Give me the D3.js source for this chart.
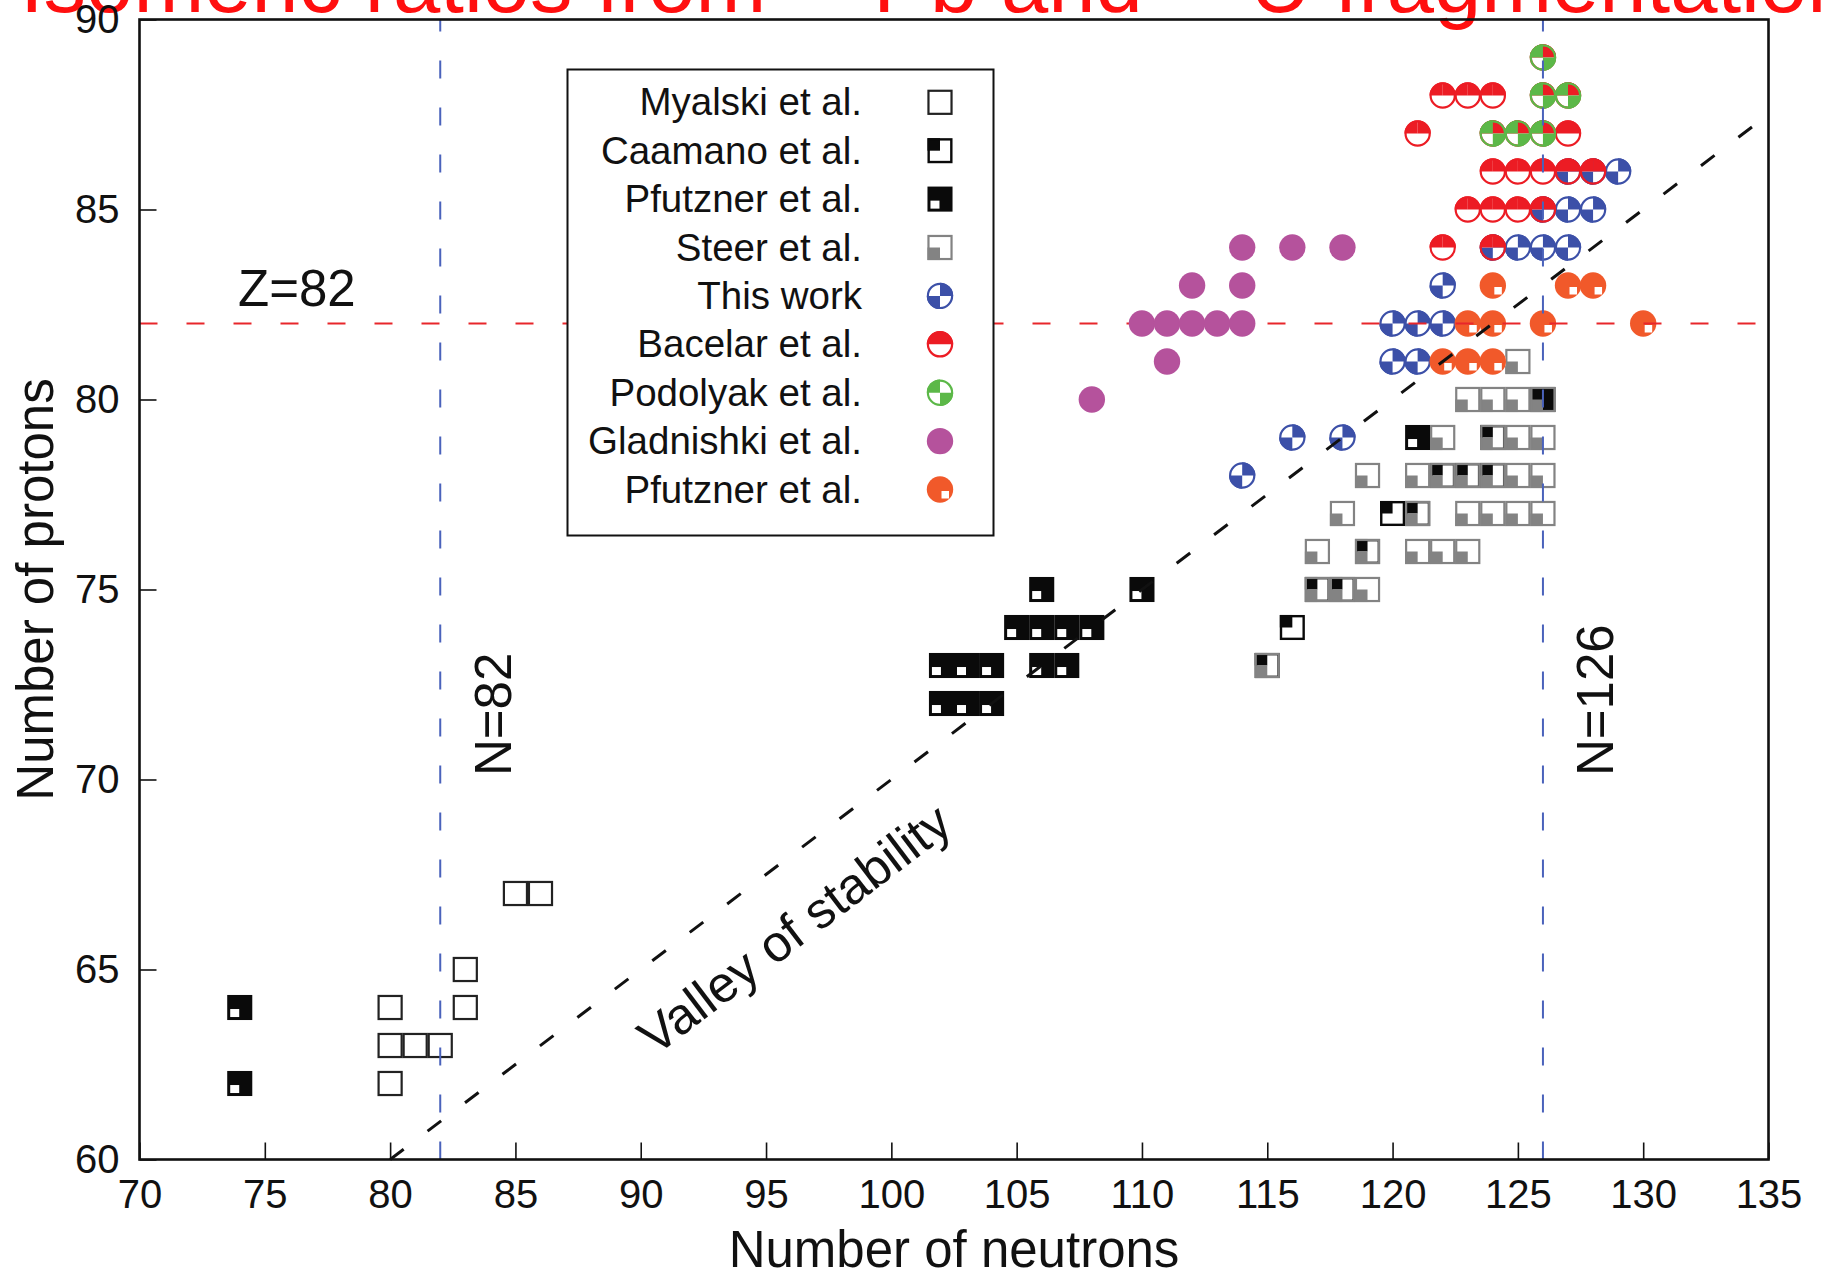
<!DOCTYPE html>
<html>
<head>
<meta charset="utf-8">
<script src="https://cdn.jsdelivr.net/npm/d3@7"></script>
<style>
  html, body { margin: 0; padding: 0; background: #fff; }
  svg { display: block; font-family: "Liberation Sans", Arial, Helvetica, sans-serif; }
</style>
</head>
<body>
<svg id="chart" width="1822" height="1272"></svg>
<script>
// ---- axis ticks ----
const xTicks = [70, 75, 80, 85, 90, 95, 100, 105, 110, 115, 120, 125, 130, 135];
const yTicks = [60, 65, 70, 75, 80, 85, 90];

// ---- measured nuclei, [N, Z] per data source ----
const myalski = [[80,62],[80,63],[81,63],[82,63],[80,64],[83,64],[83,65],[85,67],[86,67]];
const caamano = [[115,73],[116,74],[117,75],[118,75],[119,76],[120,77],[121,77],
                 [122,78],[123,78],[124,78],[124,79]];
const pfutznerSquares = [[74,62],[74,64],[102,72],[103,72],[104,72],[102,73],[103,73],[104,73],
                 [106,73],[107,73],[105,74],[106,74],[107,74],[108,74],[106,75],[110,75],
                 [121,79],[126,80]];
const steer = [[115,73],[117,75],[118,75],[119,75],[117,76],[119,76],[121,76],[122,76],[123,76],
               [118,77],[121,77],[123,77],[124,77],[125,77],[126,77],
               [119,78],[121,78],[122,78],[123,78],[124,78],[125,78],[126,78],
               [122,79],[124,79],[125,79],[126,79],[123,80],[124,80],[125,80],[126,80],[125,81]];
const thisWork = [[114,78],[116,79],[118,79],[120,81],[121,81],[120,82],[121,82],[122,82],[122,83],
                  [124,84],[125,84],[126,84],[127,84],[126,85],[127,85],[128,85],
                  [127,86],[128,86],[129,86]];
const bacelar = [[122,84],[124,84],[123,85],[124,85],[125,85],[126,85],
                 [124,86],[125,86],[126,86],[127,86],[128,86],
                 [121,87],[124,87],[125,87],[126,87],[127,87],
                 [122,88],[123,88],[124,88],[126,88],[127,88],[126,89]];
const podolyak = [[124,87],[125,87],[126,87],[126,88],[127,88],[126,89]];
const gladnishki = [[108,80],[111,81],[110,82],[111,82],[112,82],[113,82],[114,82],
                    [112,83],[114,83],[114,84],[116,84],[118,84]];
const pfutznerCircles = [[122,81],[123,81],[124,81],[123,82],[124,82],[126,82],[130,82],
                         [124,83],[127,83],[128,83]];

// ---- legend entries (top to bottom) ----
const legendNames = ["Myalski et al.", "Caamano et al.", "Pfutzner et al.", "Steer et al.",
                     "This work", "Bacelar et al.", "Podolyak et al.", "Gladnishki et al.", "Pfutzner et al."];
const legendKeys = ["myalski", "caamano", "pfutznerSq", "steer",
                    "thisWork", "bacelar", "podolyak", "gladnishki", "pfutznerCirc"];

// ---- reference lines ----
const magicN = [82, 126];
const magicZ = [82];
const valleyLine = [[80, 60], [135, 87.5]];

const COLORS = {
  blue: "#3c50a8", red: "#ec1c24", green: "#5cb848", magenta: "#b5529c",
  orange: "#f1592a", gray: "#838383", black: "#0a0a0a",
  lineBlue: "#4a62bb", lineRed: "#e8262b"
};

const svg = d3.select("#chart");
const M = { left: 139.5, right: 1768.5, top: 19.5, bottom: 1159.5 };
const x = d3.scaleLinear().domain([70, 135]).range([M.left, M.right]);
const y = d3.scaleLinear().domain([60, 90]).range([M.bottom, M.top]);

const S = x(1) - x(0);      // square side = one neutron step
const H = S / 2;
const R = 13.2;             // circle radius

// ---- title (runs past the top and right edges of the canvas) ----
const title = svg.append("text")
  .attr("x", 20).attr("y", 12)
  .attr("fill", "#ff0f0f")
  .attr("font-size", 85);
title.append("tspan").text("Isomeric ratios from ");
title.append("tspan").attr("font-size", 50).attr("dy", -36).text("208");
title.append("tspan").attr("dy", 36).text("Pb and ");
title.append("tspan").attr("font-size", 50).attr("dy", -36).text("238");
title.append("tspan").attr("dy", 36).text("U fragmentation");

// ---- axes ----
const gx = svg.append("g").attr("transform", `translate(0,${M.bottom})`)
  .call(d3.axisBottom(x).tickValues(xTicks).tickSizeInner(-17).tickSizeOuter(0).tickPadding(20));
const gy = svg.append("g").attr("transform", `translate(${M.left},0)`)
  .call(d3.axisLeft(y).tickValues(yTicks).tickSizeInner(-17).tickSizeOuter(0).tickPadding(20));
[gx, gy].forEach(g => {
  g.select(".domain").remove();
  g.selectAll(".tick line").attr("stroke", "#111").attr("stroke-width", 1.6);
  g.selectAll(".tick text").attr("font-size", 40).attr("fill", "#111")
    .attr("font-family", "'Liberation Sans', Arial, sans-serif");
});

svg.append("text")
  .attr("x", (M.left + M.right) / 2).attr("y", 1267)
  .attr("text-anchor", "middle").attr("font-size", 51).attr("fill", "#111")
  .text("Number of neutrons");
svg.append("text")
  .attr("transform", `translate(53,${(M.top + M.bottom) / 2}) rotate(-90)`)
  .attr("text-anchor", "middle").attr("font-size", 51).attr("fill", "#111")
  .text("Number of protons");

// ---- marker painters ----
const arc = d3.arc().innerRadius(0).outerRadius(R);
const QUAD = { TR: [0, Math.PI / 2], BR: [Math.PI / 2, Math.PI], BL: [Math.PI, 1.5 * Math.PI], TL: [1.5 * Math.PI, 2 * Math.PI] };

function sectors(g, cx, cy, quads, color) {
  quads.forEach(q => {
    g.append("path")
      .attr("transform", `translate(${cx},${cy})`)
      .attr("d", arc({ startAngle: QUAD[q][0], endAngle: QUAD[q][1] }))
      .attr("fill", color);
  });
}
function ring(g, cx, cy, color) {
  g.append("circle").attr("cx", cx).attr("cy", cy).attr("r", R - 1.1)
    .attr("fill", "none").attr("stroke", color).attr("stroke-width", 2.2);
}

const painters = {
  baseSquare(g, cx, cy) {
    g.append("rect").attr("x", cx - H).attr("y", cy - H).attr("width", S).attr("height", S).attr("fill", "#fff");
  },
  baseCircle(g, cx, cy) {
    g.append("circle").attr("cx", cx).attr("cy", cy).attr("r", R).attr("fill", "#fff");
  },
  myalski(g, cx, cy) {
    g.append("rect").attr("x", cx - H + 1).attr("y", cy - H + 1).attr("width", S - 2).attr("height", S - 2)
      .attr("fill", "none").attr("stroke", "#222").attr("stroke-width", 2.2);
  },
  pfutznerSq(g, cx, cy) {
    g.append("rect").attr("x", cx - H).attr("y", cy - H).attr("width", S).attr("height", S).attr("fill", COLORS.black);
    g.append("rect").attr("x", cx - H + 3).attr("y", cy + H - 11).attr("width", 9).attr("height", 8).attr("fill", "#fff");
  },
  caamano(g, cx, cy) {
    g.append("rect").attr("x", cx - H).attr("y", cy - H).attr("width", H).attr("height", H).attr("fill", COLORS.black);
    g.append("rect").attr("x", cx - H + 1.2).attr("y", cy - H + 1.2).attr("width", S - 2.4).attr("height", S - 2.4)
      .attr("fill", "none").attr("stroke", COLORS.black).attr("stroke-width", 2.4);
  },
  steer(g, cx, cy) {
    g.append("rect").attr("x", cx - H).attr("y", cy).attr("width", H).attr("height", H).attr("fill", COLORS.gray);
    g.append("rect").attr("x", cx - H + 1).attr("y", cy - H + 1).attr("width", S - 2).attr("height", S - 2)
      .attr("fill", "none").attr("stroke", COLORS.gray).attr("stroke-width", 2.2);
  },
  thisWork(g, cx, cy) { sectors(g, cx, cy, ["TR", "BL"], COLORS.blue); ring(g, cx, cy, COLORS.blue); },
  bacelar(g, cx, cy) { sectors(g, cx, cy, ["TL", "TR"], COLORS.red); ring(g, cx, cy, COLORS.red); },
  podolyak(g, cx, cy) { sectors(g, cx, cy, ["TL", "BR"], COLORS.green); ring(g, cx, cy, COLORS.green); },
  gladnishki(g, cx, cy) {
    g.append("circle").attr("cx", cx).attr("cy", cy).attr("r", R).attr("fill", COLORS.magenta);
  },
  pfutznerCirc(g, cx, cy) {
    g.append("circle").attr("cx", cx).attr("cy", cy).attr("r", R).attr("fill", COLORS.orange);
    g.append("rect").attr("x", cx + 1.5).attr("y", cy + 1.5).attr("width", 7.5).attr("height", 7.5).attr("fill", "#fff");
  }
};

function paintSeries(g, data, key) {
  data.forEach(([n, z]) => painters[key](g, x(n), y(z)));
}

// ---- data markers (lines drawn above, except the filled magenta dots) ----
const gMarks = svg.append("g");
const squarePoints = [...myalski, ...caamano, ...pfutznerSquares, ...steer];
const circlePoints = [...thisWork, ...bacelar, ...podolyak, ...pfutznerCircles];
paintSeries(gMarks, squarePoints, "baseSquare");
paintSeries(gMarks, myalski, "myalski");
paintSeries(gMarks, pfutznerSquares, "pfutznerSq");
paintSeries(gMarks, caamano, "caamano");
paintSeries(gMarks, steer, "steer");
paintSeries(gMarks, circlePoints, "baseCircle");
paintSeries(gMarks, thisWork, "thisWork");
paintSeries(gMarks, bacelar, "bacelar");
paintSeries(gMarks, podolyak, "podolyak");
paintSeries(gMarks, pfutznerCircles, "pfutznerCirc");

// ---- reference lines ----
const gLines = svg.append("g").attr("fill", "none");
const DASH = "18,29";
magicN.forEach(n => gLines.append("line")
  .attr("x1", x(n)).attr("x2", x(n)).attr("y1", y(60)).attr("y2", y(90))
  .attr("stroke", COLORS.lineBlue).attr("stroke-width", 2).attr("stroke-dasharray", DASH));
magicZ.forEach(z => gLines.append("line")
  .attr("x1", x(70)).attr("x2", x(135)).attr("y1", y(z)).attr("y2", y(z))
  .attr("stroke", COLORS.lineRed).attr("stroke-width", 2.2).attr("stroke-dasharray", DASH));
gLines.append("path")
  .attr("d", d3.line().x(d => x(d[0])).y(d => y(d[1]))(valleyLine))
  .attr("stroke", "#111").attr("stroke-width", 3).attr("stroke-dasharray", "17,30");

paintSeries(svg.append("g"), gladnishki, "gladnishki");

// ---- frame ----
svg.append("rect")
  .attr("x", M.left).attr("y", M.top).attr("width", M.right - M.left).attr("height", M.bottom - M.top)
  .attr("fill", "none").attr("stroke", "#111").attr("stroke-width", 2.6);

// ---- annotations ----
svg.append("text").attr("x", 238).attr("y", 306).attr("font-size", 51).attr("fill", "#111").text("Z=82");
svg.append("text").attr("transform", `translate(511,776) rotate(-90)`)
  .attr("font-size", 51).attr("fill", "#111").text("N=82");
svg.append("text").attr("transform", `translate(1613,776) rotate(-90)`)
  .attr("font-size", 51).attr("fill", "#111").text("N=126");
const ang = Math.atan2(y(61) - y(60), x(82) - x(80)) * 180 / Math.PI;
svg.append("text").attr("transform", `translate(805,943) rotate(${ang})`)
  .attr("text-anchor", "middle").attr("font-size", 51).attr("fill", "#111").text("Valley of stability");

// ---- legend ----
const lg = svg.append("g");
lg.append("rect").attr("x", 567.5).attr("y", 69.5).attr("width", 426).attr("height", 466)
  .attr("fill", "#fff").attr("stroke", "#111").attr("stroke-width", 2);
legendKeys.forEach((k, i) => {
  const cy = 102.3 + i * 48.4, cx = 940;
  lg.append("text").attr("x", 862).attr("y", cy + 13).attr("text-anchor", "end")
    .attr("font-size", 38.5).attr("fill", "#111").text(legendNames[i]);
  const isSquare = ["myalski", "caamano", "pfutznerSq", "steer"].includes(k);
  painters[isSquare ? "baseSquare" : "baseCircle"](lg, cx, cy);
  painters[k](lg, cx, cy);
});
</script>
</body>
</html>
